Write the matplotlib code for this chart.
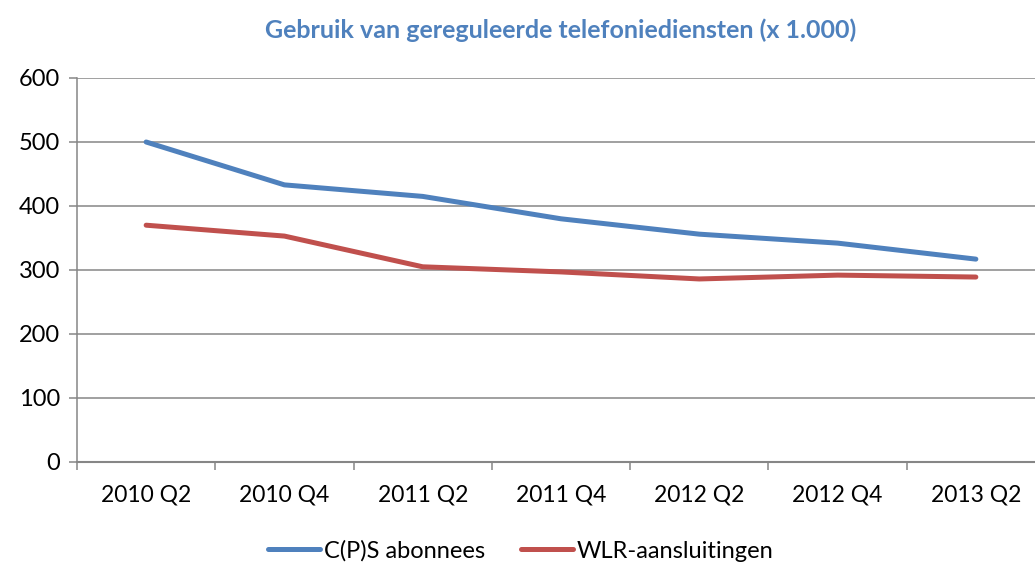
import matplotlib
matplotlib.use("Agg")
import matplotlib.pyplot as plt

categories = ["2010 Q2", "2010 Q4", "2011 Q2", "2011 Q4", "2012 Q2", "2012 Q4", "2013 Q2"]
cps_abonnees = [500, 433, 415, 380, 356, 342, 317]
wlr_aansluitingen = [370, 353, 305, 297, 286, 292, 289]
y_ticks = [0, 100, 200, 300, 400, 500, 600]
title = "Gebruik van gereguleerde telefoniediensten (x 1.000)"

plt.rcParams['font.family'] = ['Lato', 'DejaVu Sans']

W, H = 1035, 564
fig = plt.figure(figsize=(W / 100, H / 100), dpi=100)
ax = fig.add_axes([77 / W, 1 - 462 / H, 968 / W, 384 / H])

x = list(range(len(categories)))
ax.plot(x, cps_abonnees, color="#4F81BD", lw=3.6, solid_capstyle="round",
        solid_joinstyle="round", label="C(P)S abonnees")
ax.plot(x, wlr_aansluitingen, color="#C0504D", lw=3.6, solid_capstyle="round",
        solid_joinstyle="round", label="WLR-aansluitingen")

ax.set_xlim(-0.5, len(categories) - 0.5)
ax.set_ylim(0, 600)
ax.set_yticks(y_ticks)
ax.set_yticklabels([str(v) for v in y_ticks], fontsize=17)
ax.set_xticks(x)
ax.set_xticklabels(categories, fontsize=16.5)
ax.set_xticks([i - 0.5 for i in range(len(categories) + 1)], minor=True)

grid_c = "#868686"
ax.grid(axis="y", color=grid_c, lw=1.1)
ax.set_axisbelow(True)
for s in ["top", "right"]:
    ax.spines[s].set_visible(False)
ax.spines["left"].set_color(grid_c)
ax.spines["bottom"].set_color(grid_c)
ax.spines["left"].set_linewidth(1.1)
ax.spines["bottom"].set_linewidth(1.5)
ax.tick_params(axis="y", length=6, color=grid_c, width=1.1, pad=6)
ax.tick_params(axis="x", which="major", length=0, pad=16)
ax.tick_params(axis="x", which="minor", length=6, color=grid_c, width=1.1)

fig.text(561 / W, 1 - 30 / H, title, ha="center", va="center",
         fontsize=18, fontweight="bold", color="#4F81BD")

fig.legend(loc="center", bbox_to_anchor=(521 / W, 1 - 551 / H), ncol=2,
           frameon=False, fontsize=17, handlelength=2.2, handletextpad=0.15,
           columnspacing=1.55, borderpad=0)

fig.savefig("out.png", dpi=100)
